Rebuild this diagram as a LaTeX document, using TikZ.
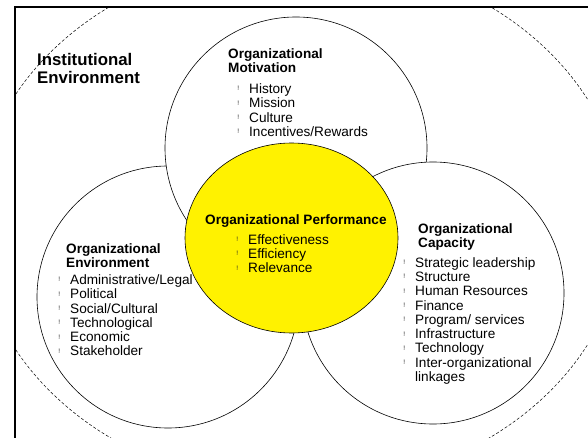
\documentclass[tikz,border=0pt]{standalone}
\usepackage{fontspec}
\setmainfont{Liberation Sans}
\usetikzlibrary{shapes,positioning}

\newcommand{\bul}{\llap{\raisebox{2.5pt}{\fontsize{6.5}{6.5}\selectfont\color{black!85}!}\hspace{10pt}}}

\begin{document}
\begin{tikzpicture}[
    x=1pt, y=-1pt,
    ring/.style={circle, draw, fill=white, line width=0.6pt, minimum size=262pt, inner sep=0pt},
    core/.style={ellipse, draw, fill=yellow, line width=0.6pt, minimum width=213pt, minimum height=190pt, inner sep=0pt},
    title/.style={anchor=north west, inner sep=0pt, align=left, font=\fontsize{13.6}{14}\selectfont\bfseries},
    items/.style={inner sep=0pt, align=left, font=\fontsize{13.6}{14.3}\selectfont}
]
\useasboundingbox (0,0) rectangle (588,438);

% institutional environment
\coordinate (inst) at (300,222);
\begin{scope}
\clip (15,7) rectangle (588,438);
\draw[dash pattern=on 3pt off 2pt, line width=0.5pt] (inst) ellipse [x radius=324pt, y radius=266pt];
\end{scope}
\draw[line width=2pt] (15,440) -- (15,6.7) -- (590,6.7);
\node[title, font=\fontsize{16.8}{17.7}\selectfont\bfseries] (instT) at (37,53) {Institutional\\Environment};

% the three circles
\node[ring] (env) at (168,297) {};
\node[ring] (mot) at (296,148) {};
\node[ring] (cap) at (433,293) {};
\node[core] (perf) at (291.5,238) {};

\node[title] (motT) at (228,48) {Organizational\\Motivation};
\node[items, below right=11pt and 21pt of motT.south west] (motL) {\bul History\\\bul Mission\\\bul Culture\\\bul Incentives/Rewards};

\node[title] (perfT) at (205,214) {Organizational Performance};
\node[items, below right=7pt and 43pt of perfT.south west] (perfL) {\bul Effectiveness\\\bul Efficiency\\\bul Relevance};

\node[title] (envT) at (66,243) {Organizational\\Environment};
\node[items, below right=7pt and 4pt of envT.south west] (envL) {\bul Administrative/Legal\\\bul Political\\\bul Social/Cultural\\\bul Technological\\\bul Economic\\\bul Stakeholder};

\node[title] (capT) at (418,223) {Organizational\\Capacity};
\node[items, below right=7pt and -3pt of capT.south west] (capL) {\bul Strategic leadership\\\bul Structure\\\bul Human Resources\\\bul Finance\\\bul Program/ services\\\bul Infrastructure\\\bul Technology\\\bul Inter-organizational\\linkages};
\end{tikzpicture}
\end{document}
